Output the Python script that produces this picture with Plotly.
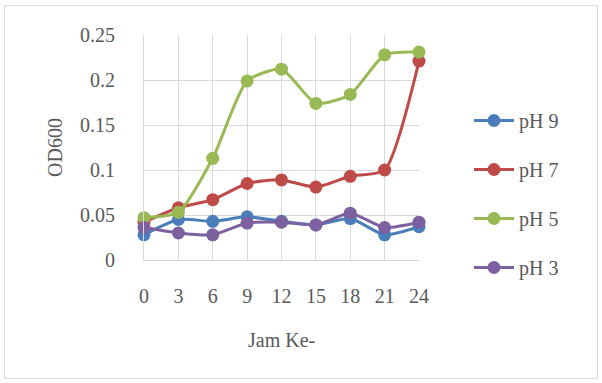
import plotly.graph_objects as go

hours = [0, 3, 6, 9, 12, 15, 18, 21, 24]
ph9 = [0.028, 0.045, 0.043, 0.048, 0.043, 0.039, 0.046, 0.028, 0.037]
ph7 = [0.042, 0.058, 0.067, 0.085, 0.089, 0.081, 0.093, 0.100, 0.221]
ph5 = [0.047, 0.053, 0.113, 0.199, 0.212, 0.174, 0.184, 0.228, 0.231]
ph3 = [0.036, 0.030, 0.028, 0.041, 0.042, 0.039, 0.052, 0.036, 0.042]
names = ["pH 9", "pH 7", "pH 5", "pH 3"]
colors = ["#4a7ebb", "#be4b48", "#98b954", "#7d60a0"]

FONT = "Liberation Serif"
FS = 20
fig = go.Figure()
for i, (nm, ys, c) in enumerate(zip(names, [ph9, ph7, ph5, ph3], colors)):
    fig.add_trace(go.Scatter(
        x=hours, y=ys, name=nm, mode="lines+markers",
        line=dict(color=c, width=3, shape="spline", smoothing=0.6),
        marker=dict(color=c, size=13),
        cliponaxis=False, legendgroup=nm,
    ))

L, R, T, B = 144, 419, 35, 260
W, H = 602, 383
pw, ph = R - L, B - T
def px(x): return (x - L) / pw
def py(y): return (B - y) / ph

fig.update_layout(
    width=W, height=H,
    margin=dict(l=L, r=W - R, t=T, b=H - B),
    paper_bgcolor="white", plot_bgcolor="white",
    font=dict(family=FONT, size=FS, color="#595959"),
    showlegend=True,
    legend=dict(x=px(469), y=py(101), xanchor="left", yanchor="top",
                tracegroupgap=20, font=dict(size=FS, color="#595959"),
                itemwidth=40),
    xaxis=dict(range=[0, 24], tickvals=hours, ticktext=[str(h) for h in hours],
               showgrid=True, gridcolor="#d9d9d9", gridwidth=1,
               zeroline=False, showline=True, linecolor="#d9d9d9",
               ticks="", ticklabelstandoff=18),
    yaxis=dict(range=[0, 0.25], tickvals=[0, 0.05, 0.1, 0.15, 0.2, 0.25],
               ticktext=["0", "0.05", "0.1", "0.15", "0.2", "0.25"],
               showgrid=True, gridcolor="#d9d9d9", gridwidth=1,
               zeroline=False, showline=True, linecolor="#d9d9d9",
               ticks="", ticklabelstandoff=24),
    annotations=[
        dict(text="Jam Ke-", xref="paper", yref="paper", x=px(281), y=py(340),
             xanchor="center", yanchor="middle", showarrow=False,
             font=dict(size=FS, color="#595959")),
        dict(text="OD600", xref="paper", yref="paper", x=px(55), y=py(148),
             xanchor="center", yanchor="middle", showarrow=False, textangle=-90,
             font=dict(size=FS, color="#595959")),
    ],
)
fig.add_shape(type="rect", xref="paper", yref="paper",
              x0=px(4.5), x1=px(597.5), y0=py(378.5), y1=py(5.5),
              line=dict(color="#d9d9d9", width=1), fillcolor="rgba(0,0,0,0)", layer="below")
fig.write_html("out.html")
